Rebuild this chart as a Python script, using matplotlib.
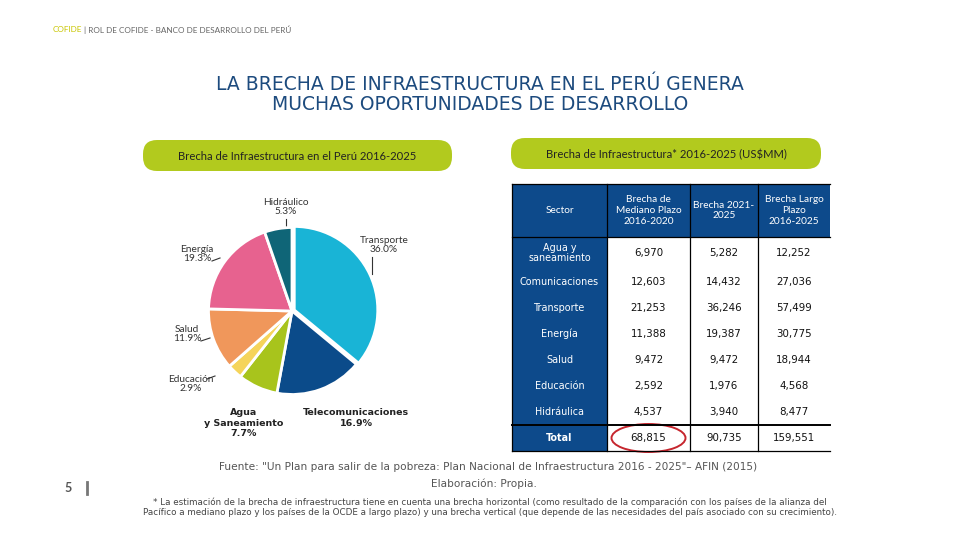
import matplotlib
matplotlib.use("Agg")
import matplotlib.pyplot as plt
from matplotlib.patches import FancyBboxPatch, Rectangle, Ellipse

# ---------------- data ----------------
pie_labels = ["Transporte", "Telecomunicaciones", "Agua\ny Saneamiento", "Educación",
              "Salud", "Energía", "Hidráulico"]
pie_shares = [36.0, 16.9, 7.7, 2.9, 11.9, 19.3, 5.3]
pie_colors = ["#19B4D6", "#0B4B8A", "#A8C41C", "#F5D45A", "#F0975B", "#E7628F", "#0F6577"]

table_sectors = ["Agua y\nsaneamiento", "Comunicaciones", "Transporte", "Energía",
                 "Salud", "Educación", "Hidráulica", "Total"]
table_headers = ["Sector", "Brecha de\nMediano Plazo\n2016-2020", "Brecha 2021-\n2025",
                 "Brecha Largo\nPlazo\n2016-2025"]
gap_2016_2020 = [6970, 12603, 21253, 11388, 9472, 2592, 4537, 68815]
gap_2021_2025 = [5282, 14432, 36246, 19387, 9472, 1976, 3940, 90735]
gap_2016_2025 = [12252, 27036, 57499, 30775, 18944, 4568, 8477, 159551]

FONT = "Lato"
WIDE = "DejaVu Sans"
BLUE = "#0D4A8B"
LIME = "#B2CA1E"

fig = plt.figure(figsize=(9.6, 5.4), dpi=100)
ax = fig.add_axes([0, 0, 1, 1])
ax.set_xlim(0, 960)
ax.set_ylim(540, 0)
ax.axis("off")

# header line
t1 = ax.text(53, 30, "COFIDE", color="#C9C600", fontsize=5.9, family=FONT, va="center", ha="left")
ax.annotate("| ROL DE COFIDE - BANCO DE DESARROLLO DEL PERÚ", xy=(1, 0.5), xycoords=t1,
            xytext=(1.5, 0), textcoords="offset points", color="#666666",
            fontsize=5.9, family=FONT, va="center", ha="left")

# title
TCOL = "#1D4B7E"
ax.text(480, 84, "LA BRECHA DE INFRAESTRUCTURA EN EL PERÚ GENERA", ha="center", va="center",
        fontsize=13.5, color=TCOL, family=WIDE)
ax.text(480, 105, "MUCHAS OPORTUNIDADES DE DESARROLLO", ha="center", va="center",
        fontsize=13.5, color=TCOL, family=WIDE)

# lime banners
for (x0, y0, w, h, txt) in [(143, 140, 309, 31, "Brecha de Infraestructura en el Perú 2016-2025"),
                            (511, 138, 310, 31, "Brecha de Infraestructura* 2016-2025 (US$MM)")]:
    ax.add_patch(FancyBboxPatch((x0, y0), w, h, boxstyle="round,pad=0,rounding_size=14",
                                facecolor=LIME, edgecolor="none"))
    ax.text(x0 + w / 2, y0 + h / 2 + 1, txt, ha="center", va="center", fontsize=8.1,
            color="#222222", family=FONT)

# ---------------- pie ----------------
cx, cy, r = 292, 311, 86
pax = fig.add_axes([(cx - r) / 960, (540 - cy - r) / 540, 2 * r / 960, 2 * r / 540])
explode = [0.03, 0, 0, 0, 0, 0, 0]
pax.pie(pie_shares, colors=pie_colors, startangle=90, counterclock=False, explode=explode,
        wedgeprops=dict(edgecolor="white", linewidth=2))
pax.set_xlim(-1.03, 1.03)
pax.set_ylim(-1.03, 1.03)
pax.set_aspect("equal")
pax.axis("off")

lab = {name: f"{name}\n{val:.1f}%" for name, val in zip(pie_labels, pie_shares)}
small = dict(fontsize=7.3, color="#333333", family=FONT, ha="center", va="center", linespacing=1.1)
ax.text(286, 207, lab["Hidráulico"], **small)
ax.plot([286, 286], [219, 226], color="#333333", lw=0.8)
ax.text(384, 245, lab["Transporte"], **small)
ax.plot([372, 372], [257, 274], color="#333333", lw=0.8)
ax.text(197, 254, lab["Energía"], **small)
ax.plot([212, 220], [261, 258], color="#333333", lw=0.8)
ax.text(187, 334, lab["Salud"], **small)
ax.plot([201, 210], [341, 338], color="#333333", lw=0.8)
ax.text(191, 384, lab["Educación"], **small)
ax.plot([207, 215], [379, 376], color="#333333", lw=0.8)
bold = dict(fontsize=6.8, color="#222222", family=WIDE, ha="center", va="center",
            fontweight="bold", linespacing=1.15)
ax.text(244, 423, pie_labels[2] + f"\n{pie_shares[2]:.1f}%", **bold)
ax.text(356, 418, pie_labels[1] + f"\n{pie_shares[1]:.1f}%", **bold)

# ---------------- table ----------------
col_edges = [512, 607, 690, 758, 830]
row_edges = [184, 237, 269, 295, 321, 347, 373, 399, 425, 451]
ax.add_patch(Rectangle((col_edges[0], row_edges[0]), col_edges[-1] - col_edges[0],
                       row_edges[1] - row_edges[0], facecolor=BLUE, edgecolor="none"))
ax.add_patch(Rectangle((col_edges[0], row_edges[1]), col_edges[1] - col_edges[0],
                       row_edges[-1] - row_edges[1], facecolor=BLUE, edgecolor="none"))
for j, h in enumerate(table_headers):
    ax.text((col_edges[j] + col_edges[j + 1]) / 2, (row_edges[0] + row_edges[1]) / 2, h,
            ha="center", va="center", color="white", fontsize=7.3, family=FONT, linespacing=1.25)
cols = [gap_2016_2020, gap_2021_2025, gap_2016_2025]
for i, sec in enumerate(table_sectors):
    yc = (row_edges[i + 1] + row_edges[i + 2]) / 2
    is_total = sec == "Total"
    ax.text((col_edges[0] + col_edges[1]) / 2, yc, sec, ha="center", va="center", color="white",
            fontsize=6.9, family=WIDE, fontweight="bold" if is_total else "normal", linespacing=1.0)
    for j, col in enumerate(cols):
        ax.text((col_edges[j + 1] + col_edges[j + 2]) / 2, yc, f"{col[i]:,}", ha="center",
                va="center", color="#111111", fontsize=7.4, family=WIDE)
for x in col_edges[:-1]:
    ax.plot([x, x], [row_edges[0], row_edges[-1]], color="black", lw=0.9)
ax.plot([col_edges[0], col_edges[-1]], [row_edges[0], row_edges[0]], color="black", lw=0.9)
ax.plot([col_edges[0], col_edges[-1]], [row_edges[1], row_edges[1]], color="black", lw=0.9)
ax.plot([col_edges[0], col_edges[-1]], [row_edges[-2], row_edges[-2]], color="black", lw=1.4)
ax.plot([col_edges[0], col_edges[-1]], [row_edges[-1], row_edges[-1]], color="black", lw=0.9)

ax.add_patch(Ellipse(((col_edges[1] + col_edges[2]) / 2, (row_edges[-2] + row_edges[-1]) / 2),
                     74, 28, fill=False, edgecolor="#C6262E", lw=1.4))

# ---------------- footnotes ----------------
ax.text(488, 467, "Fuente: \"Un Plan para salir de la pobreza: Plan Nacional de Infraestructura 2016 - 2025\"– AFIN (2015)",
        ha="center", va="center", fontsize=7.6, color="#555555", family=WIDE)
ax.text(484, 484, "Elaboración: Propia.", ha="center", va="center", fontsize=7.6, color="#555555", family=WIDE)
ax.text(490, 507, "* La estimación de la brecha de infraestructura tiene en cuenta una brecha horizontal (como resultado de la comparación con los países de la alianza del\n"
        "Pacífico a mediano plazo y los países de la OCDE a largo plazo) y una brecha vertical (que depende de las necesidades del país asociado con su crecimiento).",
        ha="center", va="center", fontsize=6.3, color="#444444", family=WIDE, linespacing=1.15)

ax.text(68, 488, "5", ha="center", va="center", fontsize=9, color="#555555", family=FONT, fontweight="bold")
ax.plot([87, 87], [482, 494], color="#777777", lw=2)

fig.savefig("out.png", dpi=100)
